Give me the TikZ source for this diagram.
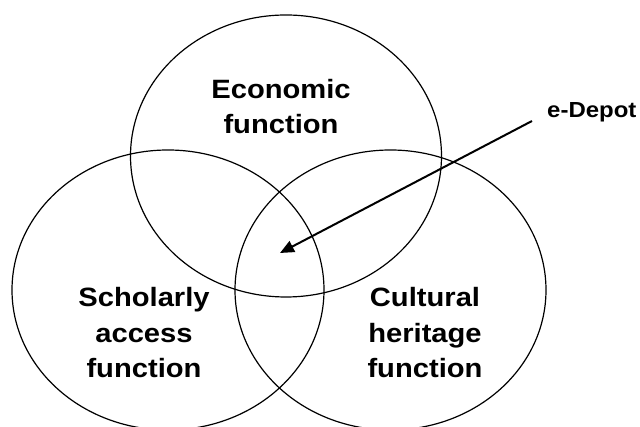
\documentclass[tikz,border=0pt]{standalone}
\usepackage{fontspec}
\setmainfont{Liberation Sans}[FakeStretch=1.1]
\usetikzlibrary{shapes.geometric,arrows.meta}

\tikzset{
	functionset/.style={draw, ellipse, line width=1.2pt, inner sep=0pt},
	caption/.style={align=center, font=\bfseries\fontsize{26.5}{35.3}\selectfont},
	pointer/.style={-{Triangle[length=14pt,width=12pt]}, line width=2pt}
}

\begin{document}
\begin{tikzpicture}[x=1pt,y=1pt]
	\useasboundingbox (0,0) rectangle (640,427);
	\clip (0,0) rectangle (640,427);

	\node (economic)[functionset, minimum width=311pt, minimum height=282pt] at (286,271){};
	\node (scholarly)[functionset, minimum width=312pt, minimum height=280pt] at (168,137){};
	\node (cultural)[functionset, minimum width=311pt, minimum height=280pt] at (390.5,137){};

	\node (econlabel)[caption] at (281,320.3){Economic\\function};
	\node (schollabel)[caption] at (144,94.2){Scholarly\\access\\function};
	\node (cultlabel)[caption] at (425,94.2){Cultural\\heritage\\function};

	\node (edepot)[anchor=base west, inner sep=0pt, font=\bfseries\fontsize{21.8}{26}\selectfont] at (547,309){e-Depot};
	\coordinate (core) at (280,174);

	% draw the connections
	\draw[pointer] ([shift={(-15pt,-3pt)}]edepot.base west)--(core);
\end{tikzpicture}
\end{document}
